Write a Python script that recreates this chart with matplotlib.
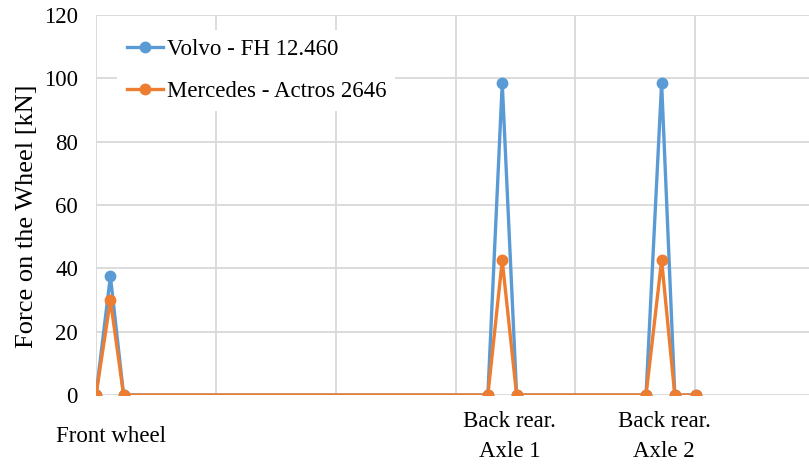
import matplotlib
matplotlib.use("Agg")
import matplotlib.pyplot as plt

# wheel positions (one grid step = 1 unit) and forces [kN]
positions = [0.0, 0.12, 0.23, 3.27, 3.39, 3.51, 4.59, 4.72, 4.83, 5.01]
volvo = [0, 37.5, 0, 0, 98.5, 0, 0, 98.5, 0, 0]
mercedes = [0, 30, 0, 0, 42.5, 0, 0, 42.5, 0, 0]

wheel_labels = ["Front wheel", "Back rear.\nAxle 1", "Back rear.\nAxle 2"]
wheel_label_x = [0.125, 3.45, 4.74]

plt.rcParams['font.family'] = ['Liberation Serif', 'DejaVu Serif']

fig = plt.figure(figsize=(8.09, 4.65), dpi=100)
ax = fig.add_axes([0.1187, 0.1505, 0.8813, 0.8172])

ax.plot(positions, volvo, color='#5B9BD5', lw=2.4, marker='o', ms=7.5,
        label='Volvo - FH 12.460', zorder=3)
ax.plot(positions, mercedes, color='#ED7D31', lw=2.4, marker='o', ms=7.5,
        label='Mercedes - Actros 2646', zorder=4)

ax.set_xlim(0, 5.95)
ax.set_ylim(0, 120)
ax.set_yticks(range(0, 121, 20))
ax.set_xticks(range(0, 6))
ax.set_xticklabels([])
ax.tick_params(axis='both', length=0, labelsize=16.5, pad=13)
ax.set_ylabel('Force on the Wheel [kN]', fontsize=19)
ax.yaxis.set_label_coords(-0.082, 0.471)
ax.grid(True, color='#D9D9D9', lw=1.3)
ax.set_axisbelow(True)
for s in ax.spines.values():
    s.set_visible(False)

for lab, xv in zip(wheel_labels, wheel_label_x):
    ax.text(xv, -13, lab, ha='center', va='center', fontsize=16.5,
            linespacing=1.55, clip_on=False)

leg = ax.legend(loc='upper left', bbox_to_anchor=(0.014, 0.99), frameon=True,
                fontsize=16.5, handlelength=1.6, labelspacing=0.9, borderpad=0.4,
                handletextpad=0.15)
leg.get_frame().set_edgecolor('none')
leg.get_frame().set_facecolor('white')
leg.get_frame().set_alpha(1)

fig.savefig('out.png', dpi=100)
